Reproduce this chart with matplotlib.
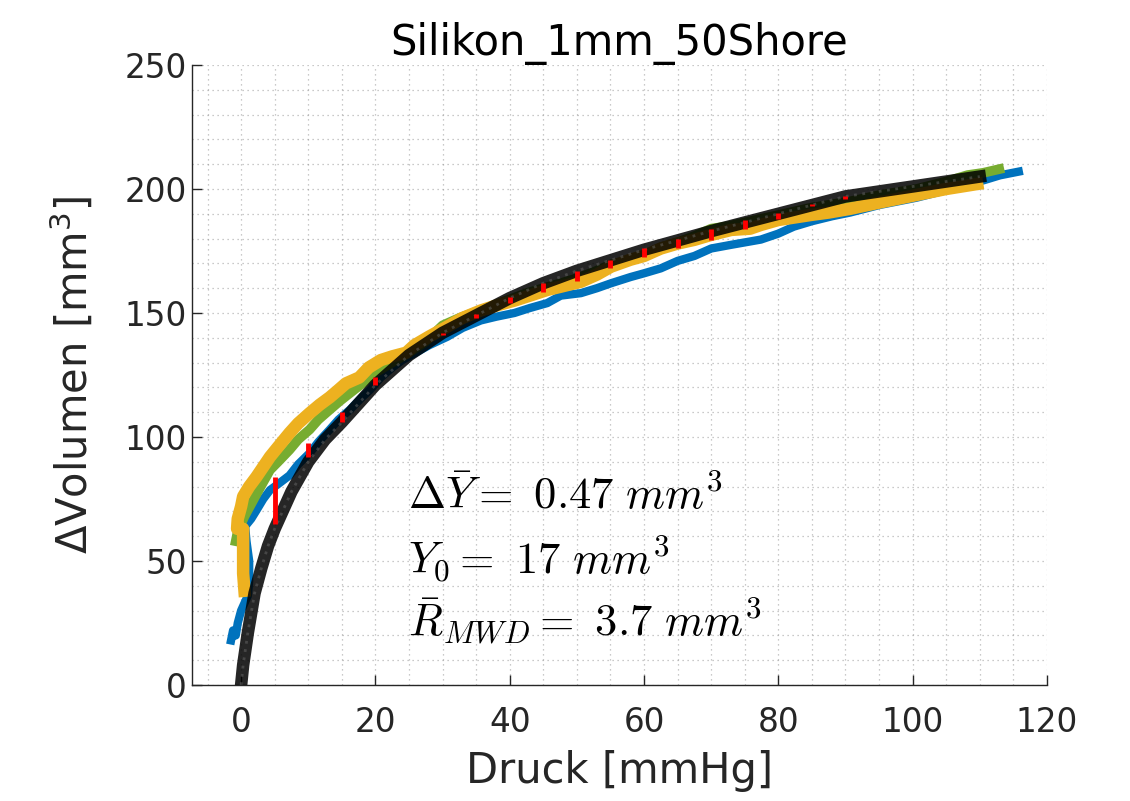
import matplotlib
matplotlib.use("Agg")
import matplotlib.pyplot as plt
from matplotlib.ticker import MultipleLocator

plt.rcParams['font.family'] = ['DejaVu Sans']
plt.rcParams['mathtext.fontset'] = 'dejavusans'

# --- data ---
blue_x = [-1.5, -1.2, -0.8, -0.5, 0.0, 0.5, 1.0, 1.2, 1.2, 0.8, 0.6, 1.5, 2.3, 3.3, 4.3, 5.5, 7.2, 8.5,
          10.2, 11.5, 13.2, 14.5, 16.2, 18.0, 19.2, 20.8, 22.5, 24.0, 25.8, 28.0, 30.7, 33.0, 35.7,
          38.0, 40.7, 43.0, 45.6, 47.6, 50.6, 53.0, 55.1, 58.0, 60.0, 62.5, 65.0, 67.5, 70.0, 73.0,
          77.4, 80.0, 82.3, 85.0, 88.0, 90.7, 95.0, 100.6, 105.0, 110.7, 113.0, 115.8]
blue_y = [18, 22, 20, 25, 30, 33, 36, 42, 50, 58, 64, 67, 70.5, 75, 78.6, 81, 84.5, 89,
          93.5, 98, 103, 107, 111, 116, 119, 124, 128, 131, 133.7, 137, 140.4, 144, 147,
          148.5, 150, 152, 154, 157, 158, 160, 162, 164.5, 166, 168, 171, 173, 176, 177.5,
          179.6, 182, 184.8, 187, 189, 190.5, 193.5, 196.5, 199.5, 203.6, 205.5, 207]

green_x = [-0.8, -0.5, 0.0, 0.5, 1.3, 2.5, 4.3, 5.5, 7.2, 8.5, 10.2, 11.5, 13.2, 14.7, 16.2, 18.0,
           20.0, 22.5, 25.0, 27.5, 30.0, 32.5, 35.0, 37.5, 40.0, 42.5, 45.0, 47.6, 50.0, 52.5,
           55.1, 57.5, 60.0, 62.5, 65.0, 67.5, 70.0, 72.5, 75.0, 77.5, 80.0, 85.0, 90.7, 95.0,
           100.6, 105.0, 108.2, 110.5, 112.9]
green_y = [58, 62, 65, 68, 72, 78, 86.7, 90, 94.8, 99, 103, 107, 111, 114.5, 117.7, 121.5,
           126, 130, 134, 138.5, 145, 148, 150.5, 153, 155.5, 158, 160, 162, 164, 166.5,
           169.6, 171, 173, 176.5, 178.5, 181, 184, 185, 186.5, 188, 189.5, 192.5, 195, 197.5,
           200, 203, 205.6, 206.5, 208]

yellow_x = [0.5, 0.3, 0.3, 0.3, -0.6, -0.5, 0.0, 0.3, 1.2, 2.3, 3.3, 4.3, 5.5, 7.2, 8.5, 10.2,
            11.7, 13.2, 14.5, 15.6, 17.6, 19.0, 20.8, 22.5, 24.6, 25.8, 28.0, 30.7, 33.0, 35.7,
            38.0, 40.7, 43.0, 45.6, 47.6, 50.6, 53.0, 55.1, 58.0, 60.0, 62.5, 65.0, 67.5, 70.0,
            73.0, 75.8, 77.4, 80.0, 84.8, 87.5, 90.7, 95.0, 100.6, 105.0, 109.6]
yellow_y = [38, 45, 55, 63, 63, 67, 72, 76, 80, 84, 88, 92, 96, 101.6, 105.5, 109.6,
            113, 116, 119, 121.6, 124, 128, 131, 132.5, 134, 137, 140.5, 144.5, 148, 151,
            153, 155, 157, 159.3, 160.6, 162.6, 165.5, 168.7, 171.5, 173, 176, 178, 179.5, 181.5,
            183.5, 184, 185.5, 187.5, 189.5, 190.5, 192, 194.5, 197.6, 200, 202]

fit_x = [0, 0.3, 1, 2, 3, 4, 5, 7.5, 10, 12.5, 15, 20, 25, 30, 35, 40, 45, 50, 60, 70, 80, 90, 100, 110]
fit_y = [0, 8, 21, 37, 47, 56, 63, 78, 90, 99, 106, 121, 133, 142, 149, 156, 162, 167, 175.5, 183, 190, 197, 201, 205]

res_x = [5, 10, 15, 20, 25, 30, 35, 40, 45, 50, 55, 60, 65, 70, 75, 80, 85, 90, 95, 100, 105]
res_fit = [65, 92, 106, 121, 133, 142, 149.5, 156.5, 162, 167, 171.5, 176, 180, 184, 187.5, 190.5,
           194, 197, 199, 201, 203]
res_mean = [84, 97.5, 110, 124, 133, 141, 148, 154, 158.6, 163, 168, 172.6, 176, 179.5, 184, 188,
            193, 196, 199, 201, 203]

title = "Silikon_1mm_50Shore"
xlabel = "Druck [mmHg]"
ylabel = "ΔVolumen [mm$^3$]"
annot = [r"$\Delta\bar{Y} =\ 0.47\ mm^3$", r"$Y_0 =\ 17\ mm^3$", r"$\bar{R}_{MWD} =\ 3.7\ mm^3$"]

# --- figure ---
fig = plt.figure(figsize=(11.30, 8.01), dpi=100)
ax = fig.add_axes([0.170, 0.1448, 0.7565, 0.7741])

ax.plot(blue_x, blue_y, color='#0072BD', lw=6, zorder=3)
ax.plot(green_x, green_y, color='#77AC30', lw=7, zorder=4)
ax.plot(yellow_x, yellow_y, color='#EDB120', lw=9, zorder=5)
ax.plot(fit_x, fit_y, color='black', lw=9, alpha=0.85, zorder=6)
ax.plot(fit_x, fit_y, color='#666666', lw=2, alpha=0.5, ls=(0, (1, 2)), zorder=6)
ax.vlines(res_x, res_fit, res_mean, colors='red', lw=3.5, zorder=7)

ax.set_xlim(-7.3, 120)
ax.set_ylim(0, 250)
ax.xaxis.set_major_locator(MultipleLocator(20))
ax.yaxis.set_major_locator(MultipleLocator(50))
ax.xaxis.set_minor_locator(MultipleLocator(5))
ax.yaxis.set_minor_locator(MultipleLocator(10))
ax.grid(True, which='both', ls=(0, (1, 3)), color='#999999', lw=0.9, alpha=0.7)
ax.set_axisbelow(True)

for s in ['top', 'right']:
    ax.spines[s].set_visible(False)
for s in ['left', 'bottom']:
    ax.spines[s].set_color('#262626')
    ax.spines[s].set_linewidth(1.0)

ax.tick_params(which='major', direction='in', length=7, width=1, colors='#262626',
               labelsize=23.5)
ax.tick_params(axis='x', which='major', pad=15)
ax.tick_params(axis='y', which='major', pad=4)
ax.tick_params(which='minor', length=0)

ax.set_title(title, fontsize=30, color='black', pad=7)
ax.set_xlabel(xlabel, fontsize=30, color='#262626', labelpad=8)
ax.set_ylabel(ylabel, fontsize=30, color='#262626', labelpad=20)

for i, t in enumerate(annot):
    ax.text(24.8, 76 - i * 25, t, fontsize=32, color='black', va='center', ha='left',
            zorder=10, math_fontfamily='cm')

fig.savefig("out.png", dpi=100)
